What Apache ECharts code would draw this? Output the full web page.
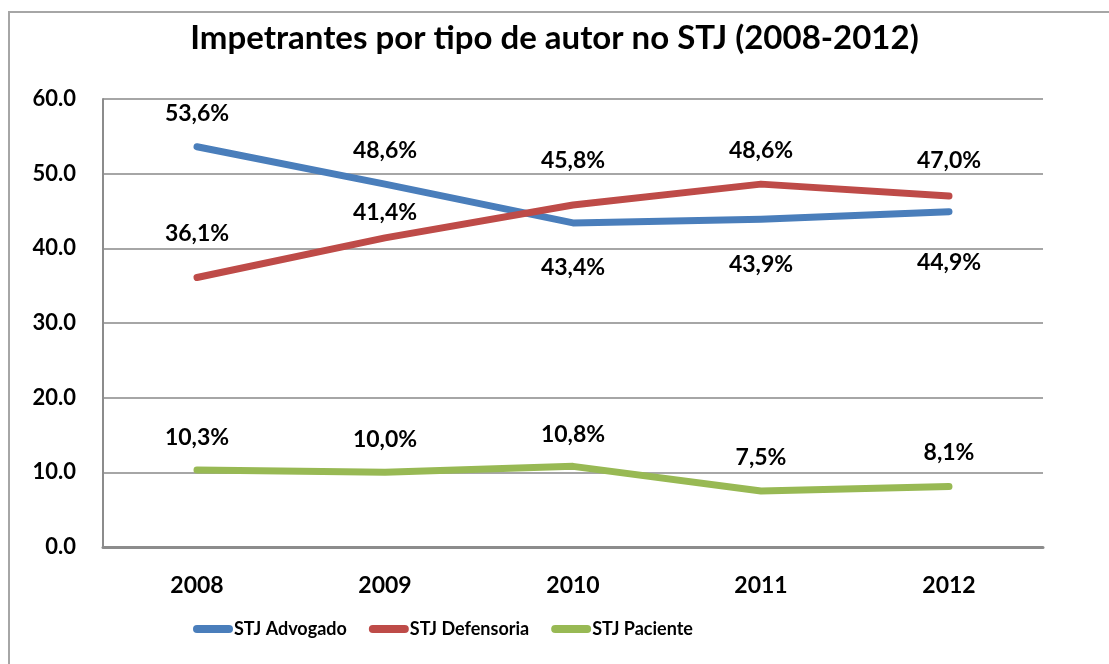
<!DOCTYPE html>
<html>
<head>
<meta charset="utf-8">
<script src="https://cdn.jsdelivr.net/npm/echarts@6/dist/echarts.min.js"></script>
<style>
  html, body { margin: 0; padding: 0; background: #fff; }
  #chart { width: 1109px; height: 664px; }
</style>
</head>
<body>
<div id="chart"></div>
<script>
const years = ['2008', '2009', '2010', '2011', '2012'];
const advogado = [53.6, 48.6, 43.4, 43.9, 44.9];
const defensoria = [36.1, 41.4, 45.8, 48.6, 47.0];
const paciente = [10.3, 10.0, 10.8, 7.5, 8.1];

// label placement per point (style only)
const advLabelPos = ['top', 'top', 'bottom', 'bottom', 'bottom'];
const advLabelDist = [22, 22, 33, 34, 39];
const defLabelDist = [32, 14, 33, 22, 24];
const pacLabelDist = [21, 21, 20, 22, 22];

const chartDom = document.getElementById('chart');
const myChart = echarts.init(chartDom);

const labelFont = {
    color: '#000',
    fontSize: 23,
    fontWeight: 'bold',
    fontFamily: 'Lato'
};

const fmt = (p) => p.value.toFixed(1).replace('.', ',') + '%';

function buildData(values, positions, dists) {
    return values.map((v, i) => ({
        value: v,
        label: {
            position: positions ? positions[i] : 'top',
            distance: dists[i]
        }
    }));
}

function makeSeries(name, values, color, positions, dists) {
    return {
        name,
        type: 'line',
        data: buildData(values, positions, dists),
        symbol: 'circle',
        symbolSize: 0.1,
        showSymbol: true,
        lineStyle: { color, width: 7, cap: 'round', join: 'round' },
        itemStyle: { color },
        label: Object.assign({ show: true, formatter: fmt }, labelFont)
    };
}

const option = {
    animation: false,
    title: {
        text: 'Impetrantes por tipo de autor no STJ (2008-2012)',
        left: 'center',
        top: 17,
        textStyle: {
            color: '#000',
            fontSize: 33,
            fontWeight: 'bold',
            fontFamily: 'Lato'
        }
    },
    graphic: [{
        type: 'rect',
        shape: { x: 9, y: 12, width: 1300, height: 900 },
        style: { fill: 'none', stroke: '#a6a6a6', lineWidth: 2 },
        silent: true
    }],
    legend: {
        bottom: 21,
        left: 188,
        itemWidth: 40,
        itemHeight: 8,
        itemGap: 22,
        icon: 'path://M4,0 L36,0 A4,4 0 0 1 36,8 L4,8 A4,4 0 0 1 4,0 Z',
        textStyle: {
            color: '#000',
            fontSize: 18,
            fontWeight: 'bold',
            fontFamily: 'Lato',
            padding: [0, 0, 0, -4]
        },
        data: ['STJ Advogado', 'STJ Defensoria', 'STJ Paciente']
    },
    grid: {
        left: 103,
        right: 66,
        top: 99,
        bottom: 117
    },
    xAxis: {
        type: 'category',
        data: years,
        boundaryGap: true,
        axisLine: { lineStyle: { color: '#8c8c8c', width: 3 } },
        axisTick: { show: false },
        axisLabel: {
            color: '#000',
            fontSize: 23,
            fontWeight: 'bold',
            fontFamily: 'Lato',
            margin: 27
        }
    },
    yAxis: {
        type: 'value',
        min: 0,
        max: 60,
        interval: 10,
        axisLine: { show: true, lineStyle: { color: '#8c8c8c', width: 2 } },
        axisTick: { show: false },
        splitLine: { lineStyle: { color: '#a6a6a6', width: 2 } },
        axisLabel: {
            color: '#000',
            fontSize: 22,
            fontWeight: 'bold',
            fontFamily: 'Lato',
            margin: 27,
            formatter: (v) => v.toFixed(1)
        }
    },
    series: [
        makeSeries('STJ Advogado', advogado, '#4a7ebb', advLabelPos, advLabelDist),
        makeSeries('STJ Defensoria', defensoria, '#be4b48', null, defLabelDist),
        makeSeries('STJ Paciente', paciente, '#98b954', null, pacLabelDist)
    ]
};

option && myChart.setOption(option);
</script>
</body>
</html>
